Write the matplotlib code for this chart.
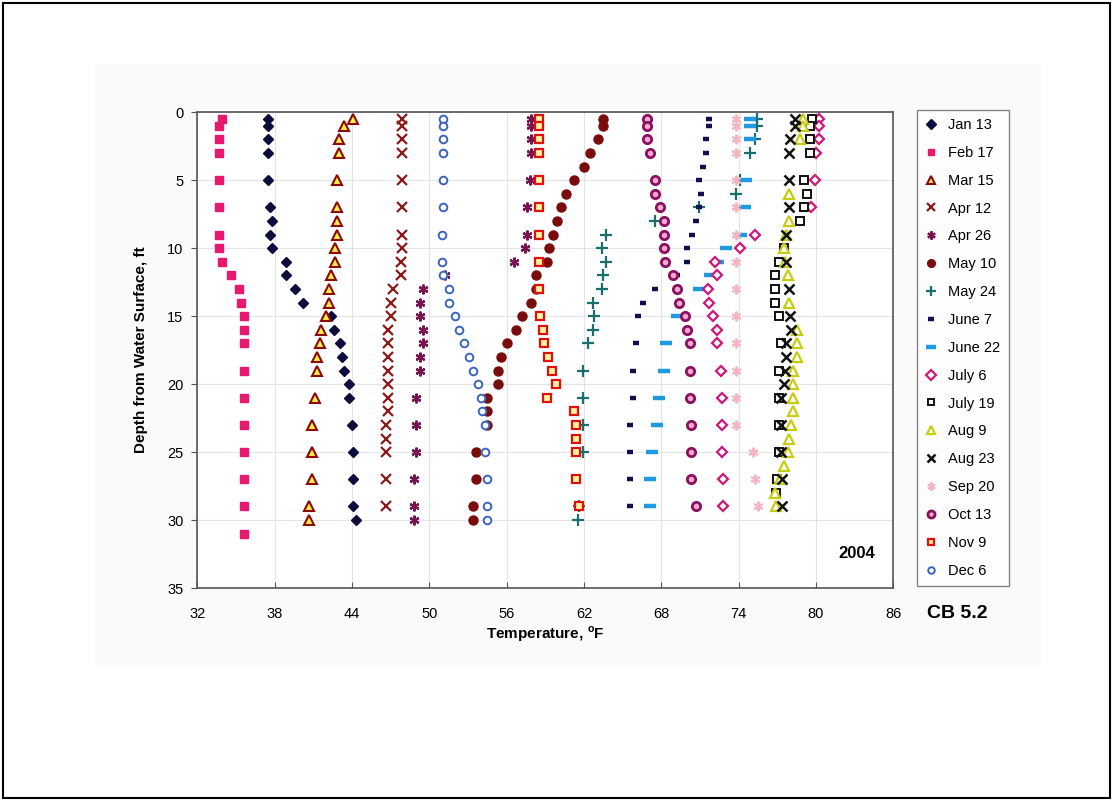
import matplotlib
matplotlib.use('Agg')
from matplotlib import pyplot as plt
from matplotlib.lines import Line2D
from matplotlib.patches import Rectangle

plt.rcParams['font.family'] = ['Liberation Sans', 'DejaVu Sans']

# depth (ft) and temperature (F) for each survey date
jan13_d = [0.5, 1, 2, 3, 5, 7, 8, 9, 10, 11, 12, 13, 14, 15, 16, 17, 18, 19, 20, 21, 23, 25, 27, 29, 30]
jan13_t = [37.5, 37.5, 37.5, 37.5, 37.5, 37.6, 37.8, 37.6, 37.8, 38.9, 38.9, 39.6, 40.2, 42.4, 42.6, 43.1, 43.2,
           43.4, 43.8, 43.8, 44.0, 44.1, 44.1, 44.1, 44.3]

feb17_d = [0.5, 1, 2, 3, 5, 7, 9, 10, 11, 12, 13, 14, 15, 16, 17, 19, 21, 23, 25, 27, 29, 31]
feb17_t = [33.9, 33.7, 33.7, 33.7, 33.7, 33.7, 33.7, 33.7, 33.9, 34.6, 35.2, 35.4, 35.6, 35.6, 35.6, 35.6, 35.6,
           35.6, 35.6, 35.6, 35.6, 35.6]

mar15_d = [0.5, 1, 2, 3, 5, 7, 8, 9, 10, 11, 12, 13, 14, 15, 16, 17, 18, 19, 21, 23, 25, 27, 29, 30]
mar15_t = [44.1, 43.4, 43.0, 43.0, 42.8, 42.8, 42.8, 42.8, 42.7, 42.7, 42.4, 42.2, 42.2, 42.0, 41.6, 41.5, 41.3,
           41.3, 41.1, 40.9, 40.9, 40.9, 40.7, 40.7]

apr12_d = [0.5, 1, 2, 3, 5, 7, 9, 10, 11, 12, 13, 14, 15, 16, 17, 18, 19, 20, 21, 22, 23, 24, 25, 27, 29]
apr12_t = [47.9, 47.9, 47.9, 47.9, 47.9, 47.9, 47.9, 47.9, 47.8, 47.8, 47.2, 47.0, 47.0, 46.8, 46.8, 46.8, 46.8,
           46.8, 46.8, 46.8, 46.6, 46.6, 46.6, 46.6, 46.6]

apr26_d = [0.5, 1, 2, 3, 5, 7, 9, 10, 11, 12, 13, 14, 15, 16, 17, 18, 19, 21, 23, 25, 27, 29, 30]
apr26_t = [57.9, 57.9, 57.9, 57.9, 57.8, 57.6, 57.6, 57.4, 56.6, 51.2, 49.5, 49.3, 49.3, 49.5, 49.5, 49.3, 49.3,
           49.0, 49.0, 49.0, 48.8, 48.8, 48.8]

may10_d = [0.5, 1, 2, 3, 4, 5, 6, 7, 8, 9, 10, 11, 12, 13, 14, 15, 16, 17, 18, 19, 20, 21, 22, 23, 25, 27, 29, 30]
may10_t = [63.5, 63.5, 63.1, 62.5, 62.0, 61.2, 60.6, 60.2, 59.9, 59.6, 59.3, 59.1, 58.3, 58.3, 57.9, 57.2, 56.7,
           56.0, 55.6, 55.3, 55.3, 54.5, 54.5, 54.5, 53.6, 53.6, 53.4, 53.4]

may24_d = [0.5, 1, 2, 3, 5, 6, 7, 8, 9, 10, 11, 12, 13, 14, 15, 16, 17, 19, 21, 23, 25, 29, 30]
may24_t = [75.4, 75.4, 75.3, 74.9, 74.1, 73.8, 70.9, 67.5, 63.7, 63.4, 63.7, 63.5, 63.4, 62.7, 62.8, 62.7, 62.3,
           61.9, 61.9, 61.9, 61.9, 61.6, 61.5]

jun7_d = [0.5, 1, 2, 3, 4, 5, 6, 7, 8, 9, 10, 11, 12, 13, 14, 15, 17, 19, 21, 23, 25, 27, 29]
jun7_t = [71.7, 71.7, 71.5, 71.5, 71.2, 70.9, 71.1, 70.9, 70.7, 70.4, 70.0, 70.0, 69.2, 67.5, 66.6, 66.2, 66.0,
          65.8, 65.8, 65.6, 65.6, 65.6, 65.6]

jun22_d = [0.5, 1, 2, 5, 7, 9, 10, 11, 12, 13, 15, 17, 19, 21, 23, 25, 27, 29]
jun22_t = [74.9, 74.9, 74.9, 74.6, 74.5, 74.2, 73.0, 72.4, 71.8, 70.9, 69.2, 68.4, 68.2, 67.8, 67.7, 67.3, 67.1, 67.1]

jul6_d = [0.5, 1, 2, 3, 5, 7, 9, 10, 11, 12, 13, 14, 15, 16, 17, 19, 21, 23, 25, 27, 29]
jul6_t = [80.2, 80.2, 80.2, 80.0, 79.9, 79.6, 75.3, 74.1, 72.2, 72.3, 71.6, 71.7, 72.0, 72.3, 72.3, 72.6, 72.7,
          72.7, 72.7, 72.8, 72.8]

jul19_d = [0.5, 1, 2, 3, 5, 6, 7, 8, 10, 11, 12, 13, 14, 15, 17, 19, 21, 23, 25, 27, 28]
jul19_t = [79.7, 79.5, 79.5, 79.5, 79.1, 79.3, 79.1, 78.8, 77.5, 77.1, 76.8, 76.8, 76.8, 77.1, 77.3, 77.1, 77.1,
           77.1, 77.1, 77.0, 76.9]

aug9_d = [0.5, 1, 2, 6, 8, 9, 10, 11, 12, 14, 16, 17, 18, 19, 20, 21, 22, 23, 24, 25, 26, 27, 28, 29]
aug9_t = [79.0, 79.0, 78.8, 77.9, 77.9, 77.7, 77.5, 77.6, 77.8, 77.9, 78.5, 78.5, 78.5, 78.2, 78.2, 78.2, 78.2,
          78.1, 77.9, 77.8, 77.5, 77.2, 76.8, 76.9]

aug23_d = [0.5, 1, 2, 3, 5, 7, 9, 11, 13, 15, 16, 17, 18, 19, 20, 21, 23, 25, 27, 29]
aug23_t = [78.4, 78.4, 78.0, 77.9, 77.9, 77.9, 77.7, 77.7, 77.9, 78.0, 78.1, 77.7, 77.7, 77.6, 77.5, 77.3, 77.3,
           77.3, 77.4, 77.4]

sep20_d = [0.5, 1, 2, 3, 5, 7, 9, 11, 13, 15, 17, 19, 21, 23, 25, 27, 29]
sep20_t = [73.8, 73.8, 73.8, 73.8, 73.8, 73.8, 73.8, 73.8, 73.8, 73.8, 73.8, 73.8, 73.8, 73.8, 75.1, 75.3, 75.5]

oct13_d = [0.5, 1, 2, 3, 5, 6, 7, 8, 9, 10, 11, 12, 13, 14, 15, 16, 17, 19, 21, 23, 25, 27, 29]
oct13_t = [66.9, 66.9, 66.9, 67.1, 67.5, 67.5, 67.9, 68.2, 68.2, 68.2, 68.3, 68.9, 69.2, 69.4, 69.8, 70.0, 70.2,
           70.2, 70.2, 70.3, 70.3, 70.3, 70.7]

nov9_d = [0.5, 1, 2, 3, 5, 7, 9, 11, 13, 15, 16, 17, 18, 19, 20, 21, 22, 23, 24, 25, 27, 29]
nov9_t = [58.5, 58.5, 58.5, 58.5, 58.5, 58.5, 58.5, 58.5, 58.5, 58.6, 58.8, 58.9, 59.2, 59.5, 59.8, 59.1, 61.2,
          61.4, 61.4, 61.4, 61.4, 61.6]

dec6_d = [0.5, 1, 2, 3, 5, 7, 9, 11, 12, 13, 14, 15, 16, 17, 18, 19, 20, 21, 22, 23, 25, 27, 29, 30]
dec6_t = [51.1, 51.1, 51.1, 51.1, 51.1, 51.1, 51.0, 51.0, 51.1, 51.5, 51.5, 52.0, 52.3, 52.7, 53.1, 53.4, 53.8,
          54.0, 54.1, 54.3, 54.3, 54.5, 54.5, 54.5]

labels = ['Jan 13', 'Feb 17', 'Mar 15', 'Apr 12', 'Apr 26', 'May 10', 'May 24', 'June 7', 'June 22',
          'July 6', 'July 19', 'Aug 9', 'Aug 23', 'Sep 20', 'Oct 13', 'Nov 9', 'Dec 6']

series = [(jan13_t, jan13_d), (feb17_t, feb17_d), (mar15_t, mar15_d), (apr12_t, apr12_d), (apr26_t, apr26_d),
          (may10_t, may10_d), (may24_t, may24_d), (jun7_t, jun7_d), (jun22_t, jun22_d), (jul6_t, jul6_d),
          (jul19_t, jul19_d), (aug9_t, aug9_d), (aug23_t, aug23_d), (sep20_t, sep20_d), (oct13_t, oct13_d),
          (nov9_t, nov9_d), (dec6_t, dec6_d)]

asterisk = (6, 2, 0)
# marker, size, face, edge, edge width
styles = [
    ('D', 5.5, '#0d0d3d', '#0d0d3d', 1),
    ('s', 5.5, '#e8186f', '#e8186f', 1),
    ('^', 6.5, '#ffee44', '#8b0a0a', 1.5),
    ('x', 6.5, 'none', '#8b1a1a', 1.6),
    (asterisk, 7, 'none', '#7a1450', 1.6),
    ('o', 6.5, '#7a0c0c', '#7a0c0c', 1),
    ('+', 8, 'none', '#1a6e6e', 1.6),
    ('_', 5, 'none', '#101050', 3.2),
    ('_', 8, 'none', '#1e9be0', 3.2),
    ('D', 5.5, 'white', '#d0187a', 1.6),
    ('s', 5.5, 'white', '#111111', 1.4),
    ('^', 6.5, 'white', '#c8cc10', 1.6),
    ('x', 6.5, 'none', '#111111', 1.8),
    (asterisk, 7, 'none', '#f4b4c0', 1.4),
    ('o', 6, '#f4a8d0', '#8a1060', 2),
    ('s', 5.5, '#fff5a0', '#e01010', 1.6),
    ('o', 5.5, 'white', '#3a64c0', 1.4),
]

fig = plt.figure(figsize=(11.13, 8.01), dpi=100)
fig.patch.set_facecolor('white')
fig.add_artist(Rectangle((0.085, 0.17), 0.85, 0.75, transform=fig.transFigure,
                         facecolor='#fafafa', edgecolor='none', zorder=-5))
fig.add_artist(Rectangle((0.003, 0.004), 0.994, 0.992, transform=fig.transFigure,
                         facecolor='none', edgecolor='black', lw=1.5))

ax = fig.add_axes([0.1773, 0.2659, 0.6253, 0.5939])
ax.set_facecolor('white')

handles = []
for (t, d), lab, (m, ms, fc, ec, mew) in zip(series, labels, styles):
    ax.plot(t, d, linestyle='none', marker=m, markersize=ms, markerfacecolor=fc,
            markeredgecolor=ec, markeredgewidth=mew, label=lab)
    handles.append(Line2D([], [], linestyle='none', marker=m, markersize=ms * 0.85, markerfacecolor=fc,
                          markeredgecolor=ec, markeredgewidth=mew))

ax.set_xlim(32, 86)
ax.set_ylim(35, 0)
ax.set_xticks(range(32, 87, 6))
ax.set_yticks(range(0, 36, 5))
ax.grid(True, color='#e4e4e4', lw=0.8)
ax.set_axisbelow(True)
for s in ax.spines.values():
    s.set_color('#555555')
    s.set_linewidth(1.2)
ax.tick_params(axis='x', direction='in', length=4, labelsize=10.5, pad=14, color='#555555')
ax.tick_params(axis='y', direction='out', length=4, labelsize=10.5, pad=6, color='#555555')

ax.set_xlabel('Temperature, $^{\\mathregular{o}}$F', fontsize=11, fontweight='bold', labelpad=2)
ax.set_ylabel('Depth from Water Surface, ft', fontsize=11, fontweight='bold', labelpad=14)

fig.text(857 / 1113, 1 - 553 / 801, '2004', fontsize=12, fontweight='bold', ha='center', va='center')
fig.text(957 / 1113, 1 - 613 / 801, 'CB 5.2', fontsize=14, fontweight='bold', ha='center', va='center')

leg = fig.legend(handles, labels, loc='upper left', bbox_to_anchor=(917 / 1113, 1 - 110 / 801),
                 borderaxespad=0, frameon=True, fancybox=False, edgecolor='#666666', fontsize=10.5,
                 handlelength=0.8, handletextpad=0.8, labelspacing=0.95, borderpad=0.55)
leg.get_frame().set_linewidth(1)

fig.savefig('out.png', dpi=100)
